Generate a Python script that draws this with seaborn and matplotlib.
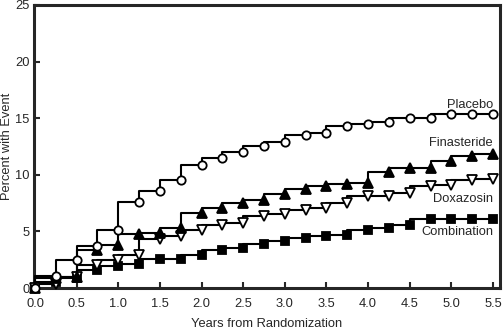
import matplotlib
matplotlib.use("Agg")
import matplotlib.pyplot as plt
import seaborn as sns
import pandas as pd

years = [0.0, 0.25, 0.5, 0.75, 1.0, 1.25, 1.5, 1.75, 2.0, 2.25, 2.5, 2.75,
         3.0, 3.25, 3.5, 3.75, 4.0, 4.25, 4.5, 4.75, 5.0, 5.25, 5.5]
placebo = [0, 1.1, 2.5, 3.7, 5.1, 7.6, 8.6, 9.5, 10.9, 11.5, 12.0, 12.5,
           12.9, 13.5, 13.65, 14.3, 14.45, 14.7, 15.0, 15.05, 15.4, 15.4, 15.4]
finasteride = [0, 0.85, 1.0, 3.4, 3.8, 4.8, 4.9, 5.3, 6.6, 7.1, 7.5, 7.8,
               8.3, 8.75, 9.0, 9.2, 9.3, 10.25, 10.6, 10.6, 11.2, 11.7, 11.85]
doxazosin = [0, 0.35, 0.95, 2.0, 2.5, 2.9, 4.35, 4.6, 5.1, 5.6, 5.7, 6.4,
             6.5, 6.9, 7.05, 7.5, 8.15, 8.15, 8.4, 9.05, 9.1, 9.5, 9.6]
combination = [0, 0.55, 0.9, 1.6, 1.95, 2.1, 2.55, 2.6, 2.9, 3.35, 3.5, 3.9,
               4.15, 4.45, 4.55, 4.65, 5.15, 5.3, 5.6, 6.1, 6.1, 6.1, 6.1]
series_names = ["Combination", "Doxazosin", "Finasteride", "Placebo"]
label_y = {"Placebo": 16.2, "Finasteride": 12.85, "Doxazosin": 7.9, "Combination": 4.95}
xticks = [0.0, 0.5, 1.0, 1.5, 2.0, 2.5, 3.0, 3.5, 4.0, 4.5, 5.0, 5.5]
yticks = [0, 5, 10, 15, 20, 25]

sns.set_style("ticks")
plt.rcParams["font.family"] = ["Liberation Sans", "DejaVu Sans"]

data = {"Placebo": placebo, "Finasteride": finasteride,
        "Doxazosin": doxazosin, "Combination": combination}
markers = {"Placebo": ("o", "white"), "Finasteride": ("^", "black"),
           "Doxazosin": ("v", "white"), "Combination": ("s", "black")}
msize = {"Placebo": 6.0, "Finasteride": 6.5, "Doxazosin": 6.5, "Combination": 5.5}
fs = 9.3

fig = plt.figure(figsize=(5.03, 3.32), dpi=100)
ax = fig.add_axes([0.0676, 0.1325, 0.9264, 0.8525])

for name in series_names:
    df = pd.DataFrame({"x": years, "y": data[name]})
    m, fc = markers[name]
    sns.lineplot(data=df, x="x", y="y", ax=ax, color="black", linewidth=1.5,
                 drawstyle="steps-pre", marker=m, markersize=msize[name],
                 markerfacecolor=fc, markeredgecolor="black",
                 markeredgewidth=1.3, clip_on=False, zorder=3)

for name in series_names:
    ax.text(5.5, label_y[name], name, ha="right", va="center", fontsize=fs)

ax.set_xlim(-0.012, 5.584)
ax.set_ylim(0, 25)
ax.set_xticks(xticks)
ax.set_xticklabels([f"{t:.1f}" for t in xticks], fontsize=fs)
ax.set_yticks(yticks)
ax.set_yticklabels([str(t) for t in yticks], fontsize=fs)
ax.tick_params(direction="in", length=4, width=1.5)
ax.tick_params(axis="x", pad=7)
ax.tick_params(axis="y", pad=3)
ax.set_xlabel("Years from Randomization", fontsize=fs, labelpad=6)
ax.set_ylabel("Percent with Event", fontsize=fs, labelpad=2)
for s in ax.spines.values():
    s.set_linewidth(2.2)
    s.set_visible(True)

fig.savefig("out.png", dpi=100)
